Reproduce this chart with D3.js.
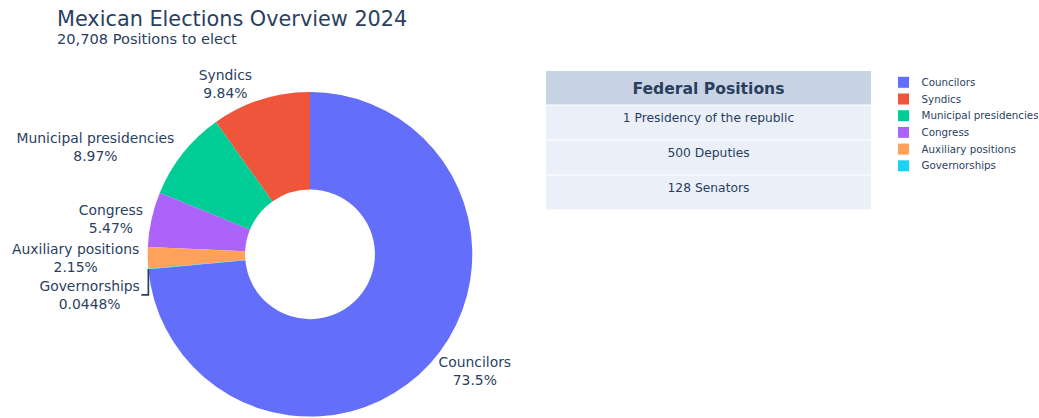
<!DOCTYPE html>
<html>
<head>
<meta charset="utf-8">
<script src="https://cdn.jsdelivr.net/npm/d3@7"></script>
<style>
  html, body { margin: 0; padding: 0; background: #fff; }
  svg { display: block; font-family: "DejaVu Sans", Verdana, sans-serif; }
</style>
</head>
<body>
<svg id="chart" width="1039" height="418"></svg>
<script>
// ---- Data ----
const titleText = "Mexican Elections Overview 2024";
const subtitleText = "20,708 Positions to elect";
const categories = ["Councilors", "Syndics", "Municipal presidencies", "Congress", "Auxiliary positions", "Governorships"];
const positions = [14764, 1976, 1801, 1098, 431, 9];
const colors = ["#636efa", "#EF553B", "#00cc96", "#ab63fa", "#FFA15A", "#19d3f3"];
const tableHeader = ["Federal Positions"];
const federalPositions = ["1 Presidency of the republic", "500 Deputies", "128 Senators"];

// ---- Setup ----
const svg = d3.select("#chart");
const textColor = "#2a3f5f";

// Title
svg.append("text").attr("x", 57).attr("y", 26)
  .attr("font-size", 20.8).attr("fill", textColor).text(titleText);
svg.append("text").attr("x", 57).attr("y", 44)
  .attr("font-size", 14.6).attr("fill", textColor).text(subtitleText);

// ---- Pie ----
const cx = 310, cy = 254.3, R = 162.3, hole = 0.4;
const total = d3.sum(positions);
const startA = 2 * Math.PI * positions[0] / total;
const pie = d3.pie().sort(null).value(d => d.value)
  .startAngle(startA).endAngle(startA - 2 * Math.PI);
const data = categories.map((c, i) => ({ name: c, value: positions[i], color: colors[i] }));
const arcs = pie(data);
const arc = d3.arc().innerRadius(R * hole).outerRadius(R);

const g = svg.append("g").attr("transform", `translate(${cx},${cy})`);
g.selectAll("path.slice").data(arcs).enter().append("path")
  .attr("class", "slice")
  .attr("d", arc)
  .attr("fill", d => d.data.color);

// ---- Outside labels (plotly-like placement) ----
const pct = d3.format(".3~p");
const labelSize = 13.9;
const labels = arcs.map(a => {
  const mid = (a.startAngle + a.endAngle) / 2;
  const px = R * Math.sin(mid), py = -R * Math.cos(mid);
  const t = svg.append("text")
    .attr("font-size", labelSize).attr("fill", textColor)
    .attr("text-anchor", "middle");
  t.append("tspan").attr("x", 0).attr("dy", 0).text(a.data.name);
  t.append("tspan").attr("x", 0).attr("dy", labelSize * 1.3).text(pct(a.value / total));
  const bb = t.node().getBBox();
  let dx = bb.width / 2, dy = bb.height / 2;
  if (px < 0) dx *= -1;
  if (py < 0) dy *= -1;
  const ox = dx + Math.abs(dy) * (dx > 0 ? 1 : -1) / 2;
  const oy = dy / (1 + px * px / (py * py));
  return { a, t, bb, px, py, x: cx + px + ox, y: cy + py + oy, h: bb.height, w: bb.width, shifted: 0 };
});

// scoot overlapping labels on each side (push downward, top to bottom)
const scootGap = 3;
["left", "right"].forEach(side => {
  const group = labels.filter(l => side === "left" ? l.px < 0 : l.px >= 0)
    .sort((p, q) => p.y - q.y);
  for (let i = 1; i < group.length; i++) {
    const prev = group[i - 1], cur = group[i];
    const prevBottom = prev.y + prev.h / 2;
    const curTop = cur.y - cur.h / 2;
    if (curTop < prevBottom) {
      const shift = prevBottom - curTop + scootGap;
      cur.y += shift;
      cur.shifted = shift;
    }
  }
});

labels.forEach(l => {
  const bbCx = l.bb.x + l.bb.width / 2, bbCy = l.bb.y + l.bb.height / 2;
  l.t.attr("transform", `translate(${l.x - bbCx},${l.y - bbCy})`);
  if (l.shifted > 0) {
    const sx = cx + l.px, sy = cy + l.py;
    const endX = l.px < 0 ? l.x + l.w / 2 + 1.5 : l.x - l.w / 2 - 1.5;
    svg.append("path")
      .attr("d", `M${sx},${sy}V${l.y}H${endX}`)
      .attr("fill", "none").attr("stroke", textColor)
      .attr("stroke-width", 1.7);
  }
});

// ---- Table ----
const tx = 546, tw = 325, headerTop = 71, headerH = 34, rowH = 35;
const tg = svg.append("g");
tg.append("rect").attr("x", tx).attr("y", headerTop).attr("width", tw).attr("height", headerH)
  .attr("fill", "#C8D4E3");
tg.append("text").attr("x", tx + tw / 2).attr("y", headerTop + 22.7)
  .attr("text-anchor", "middle").attr("font-size", 15.6).attr("font-weight", "bold")
  .attr("fill", textColor).text(tableHeader[0]);
const yRow = d3.scaleBand().domain(federalPositions.map((d, i) => i))
  .range([headerTop + headerH, headerTop + headerH + rowH * federalPositions.length]);
federalPositions.forEach((d, i) => {
  tg.append("rect").attr("x", tx).attr("y", yRow(i)).attr("width", tw).attr("height", yRow.bandwidth())
    .attr("fill", "#EBF0F8");
  tg.append("text").attr("x", tx + tw / 2).attr("y", yRow(i) + 17.3)
    .attr("text-anchor", "middle").attr("font-size", 12.3).attr("fill", textColor).text(d);
});
for (let i = 0; i <= federalPositions.length; i++) {
  const yy = i === 0 ? headerTop + headerH : yRow(i - 1) + yRow.bandwidth();
  tg.append("line").attr("x1", tx).attr("x2", tx + tw).attr("y1", yy).attr("y2", yy)
    .attr("stroke", "#fff").attr("stroke-width", 1);
}

// ---- Legend ----
const lg = svg.append("g");
const ly = d3.scalePoint().domain(categories).range([82.3, 82.3 + 16.7 * (categories.length - 1)]);
categories.forEach((c, i) => {
  lg.append("rect").attr("x", 898).attr("y", ly(c) - 5.5).attr("width", 11).attr("height", 11)
    .attr("fill", colors[i]);
  lg.append("text").attr("x", 921.5).attr("y", ly(c)).attr("dy", "0.35em")
    .attr("font-size", 10.3).attr("fill", textColor).text(c);
});
</script>
</body>
</html>
